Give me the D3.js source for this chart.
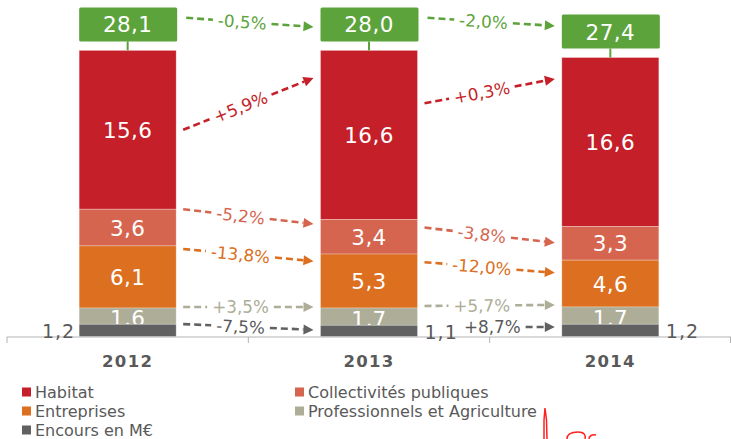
<!DOCTYPE html>
<html><head><meta charset="utf-8">
<script src="https://cdn.jsdelivr.net/npm/d3@7"></script>
<style>
html,body{margin:0;padding:0;background:#fff;}
svg{display:block;}
text{font-family:"DejaVu Sans",Verdana,sans-serif;}
</style></head>
<body>
<svg id="chart" width="731" height="439"></svg>
<script>
// ---------- DATA ----------
const years = ["2012", "2013", "2014"];
const habitat = [15.6, 16.6, 16.6];
const collectivites = [3.6, 3.4, 3.3];
const entreprises = [6.1, 5.3, 4.6];
const professionnels = [1.6, 1.7, 1.7];
const encours = [1.2, 1.1, 1.2];
const totals = ["28,1", "28,0", "27,4"];

const seriesKeys = ["encours", "professionnels", "entreprises", "collectivites", "habitat"];
const seriesLabels = {
  habitat: "Habitat",
  collectivites: "Collectivités publiques",
  entreprises: "Entreprises",
  professionnels: "Professionnels et Agriculture",
  encours: "Encours en M€"
};
const legendOrder = ["habitat", "collectivites", "entreprises", "professionnels", "encours"];

// evolution annotations (arrow end levels expressed in data units)
const arrowKeys = ["total", "habitat", "collectivites", "entreprises", "professionnels", "encours"];
const changes1213 = ["-0,5%", "+5,9%", "-5,2%", "-13,8%", "+3,5%", "-7,5%"];
const changes1314 = ["-2,0%", "+0,3%", "-3,8%", "-12,0%", "+5,7%", "+8,7%"];
const from1213 = [31.3, 20.3, 12.5, 8.6, 2.9, 1.22];
const to1213   = [30.4, 25.4, 11.05, 7.4, 2.9, 0.65];
const from1314 = [31.3, 22.9, 10.7, 7.3, 3.0, 0.93];
const to1314   = [30.5, 25.3, 9.2, 6.25, 3.1, 0.93];

// ---------- STYLE ----------
const colors = {
  habitat: "#C51F29",
  collectivites: "#D5654F",
  entreprises: "#DC6F20",
  professionnels: "#ADAD98",
  encours: "#616161",
  total: "#5CA33C"
};
const arrowTextColors = {
  total: "#5CA33C", habitat: "#C51F29", collectivites: "#D5654F",
  entreprises: "#DC6F20", professionnels: "#ADAD98", encours: "#595959"
};
const grey = "#595959";

const svg = d3.select("#chart");
const W = 731;

const x = d3.scaleBand().domain(years).range([7, 731]).paddingInner(0).paddingOuter(0);
const y = d3.scaleLinear().domain([0, 33]).range([336.5, 0.5]);
const barW = 97;
const bx = yr => x(yr) + x.bandwidth() / 2 - barW / 2;

// stack
const rows = years.map((yr, i) => ({
  year: yr, habitat: habitat[i], collectivites: collectivites[i],
  entreprises: entreprises[i], professionnels: professionnels[i], encours: encours[i]
}));
const stack = d3.stack().keys(seriesKeys)(rows);

// axis
const axisY = 337;
svg.append("line").attr("x1", 7).attr("x2", W).attr("y1", axisY).attr("y2", axisY)
  .attr("stroke", "#b3b3b3").attr("stroke-width", 1);
const tickXs = years.map(yr => x(yr)).concat([x(years[years.length - 1]) + x.bandwidth() - 0.5]);
svg.selectAll(".tk").data(tickXs).enter().append("line")
  .attr("x1", d => d).attr("x2", d => d).attr("y1", axisY).attr("y2", axisY + 6)
  .attr("stroke", "#b3b3b3");

// draw series in order habitat -> ... -> encours (so lower segments overlap labels above)
const drawOrder = ["habitat", "collectivites", "entreprises", "professionnels", "encours"];
drawOrder.forEach(key => {
  const layer = stack.find(s => s.key === key);
  const g = svg.append("g");
  g.selectAll("rect").data(layer).enter().append("rect")
    .attr("x", d => bx(d.data.year))
    .attr("y", d => y(d[1]))
    .attr("width", barW)
    .attr("height", d => y(d[0]) - y(d[1]))
    .attr("fill", colors[key])
    .attr("stroke", "#ffffff").attr("stroke-opacity", 0.35).attr("stroke-width", 0.8);
  if (key !== "encours") {
    g.selectAll("text").data(layer).enter().append("text")
      .attr("x", d => bx(d.data.year) + barW / 2)
      .attr("y", d => (y(d[0]) + y(d[1])) / 2 + (key === "professionnels" ? 10 : 8))
      .attr("text-anchor", "middle")
      .attr("fill", "#ffffff")
      .attr("font-size", "21.5px")
      .attr("letter-spacing", "0.4px")
      .text(d => d3.format(".1f")(d.data[key]).replace(".", ","));
  }
});

// encours labels outside the bars
const encLayer = stack.find(s => s.key === "encours");
svg.selectAll(".enc").data(encLayer).enter().append("text")
  .attr("x", (d, i) => i === 0 ? bx(d.data.year) - 4 : bx(d.data.year) + barW + 7)
  .attr("y", d => (y(d[0]) + y(d[1])) / 2 + 8)
  .attr("text-anchor", (d, i) => i === 0 ? "end" : "start")
  .attr("fill", grey)
  .attr("font-size", "19px")
  .attr("letter-spacing", "1px")
  .text(d => d3.format(".1f")(d.data.encours).replace(".", ","));

// total boxes
const boxH = 34;
const topLayer = stack[stack.length - 1];
years.forEach((yr, i) => {
  const barTop = y(topLayer[i][1]);
  const boxBottom = barTop - 9;
  const cx = bx(yr) + barW / 2;
  svg.append("line").attr("x1", cx).attr("x2", cx).attr("y1", boxBottom).attr("y2", barTop)
    .attr("stroke", colors.total).attr("stroke-width", 2);
  svg.append("rect").attr("x", bx(yr)).attr("y", boxBottom - boxH).attr("width", barW + 1)
    .attr("height", boxH).attr("rx", 1.5).attr("fill", colors.total);
  svg.append("text").attr("x", cx).attr("y", boxBottom - boxH / 2 + 8)
    .attr("text-anchor", "middle").attr("fill", "#fff")
    .attr("font-size", "21.5px").attr("letter-spacing", "0.4px")
    .text(totals[i]);
});

// arrows
function drawArrow(x1, y1, x2, y2, label, key, opts) {
  const color = colors[key];
  const dx = x2 - x1, dy = y2 - y1;
  const len = Math.hypot(dx, dy);
  const ux = dx / len, uy = dy / len;
  const ang = Math.atan2(dy, dx) * 180 / Math.PI;
  const tPos = opts.tPos;
  const tcx = x1 + dx * tPos, tcy = y1 + dy * tPos;
  const txt = svg.append("text")
    .attr("transform", `translate(${tcx},${tcy}) rotate(${ang})`)
    .attr("text-anchor", "middle").attr("dy", "0.36em")
    .attr("font-size", "16.8px")
    .attr("fill", arrowTextColors[key])
    .text(label);
  const tw = txt.node().getComputedTextLength();
  const gap = 5;
  const sLead = len * tPos - tw / 2 - gap;
  const sTrail = len * tPos + tw / 2 + gap;
  const head = 10, hw = 5;
  const g = svg.append("g").attr("stroke", color).attr("stroke-width", 2.6)
    .attr("stroke-dasharray", "7,4").attr("fill", "none");
  if (opts.lead && sLead > 0) {
    g.append("line").attr("x1", x1).attr("y1", y1)
      .attr("x2", x1 + ux * sLead).attr("y2", y1 + uy * sLead);
  }
  const ex = x2 - ux * head, ey = y2 - uy * head;
  g.append("line").attr("x1", x1 + ux * sTrail).attr("y1", y1 + uy * sTrail)
    .attr("x2", ex).attr("y2", ey);
  svg.append("path")
    .attr("d", `M${x2},${y2}L${ex - uy * hw},${ey + ux * hw}L${ex + uy * hw},${ey - ux * hw}Z`)
    .attr("fill", color);
}

[[0, changes1213, from1213, to1213], [1, changes1314, from1314, to1314]].forEach(([i, labs, fr, to]) => {
  const xa = bx(years[i]) + barW;
  const xb = bx(years[i + 1]);
  arrowKeys.forEach((key, k) => {
    const isEncLast = (i === 1 && key === "encours");
    const startX = key === "total" ? xa + 10 : xa + 7;
    drawArrow(startX, y(fr[k]), xb - 7, y(to[k]), labs[k], key,
      { tPos: isEncLast ? 0.52 : 0.44, lead: !isEncLast });
  });
});

// year labels
svg.selectAll(".yr").data(years).enter().append("text")
  .attr("x", d => x(d) + x.bandwidth() / 2)
  .attr("y", 367)
  .attr("text-anchor", "middle")
  .attr("font-weight", "bold")
  .attr("font-size", "16.5px")
  .attr("letter-spacing", "1.3px")
  .attr("fill", grey)
  .text(d => d);

// legend
const legendPos = [[22, 392], [295, 392], [22, 411], [295, 411], [22, 430]];
legendOrder.forEach((key, i) => {
  const [lx, ly] = legendPos[i];
  svg.append("rect").attr("x", lx).attr("y", ly - 4.5).attr("width", 9).attr("height", 9)
    .attr("fill", colors[key]);
  svg.append("text").attr("x", lx + 13).attr("y", ly + 5.5)
    .attr("font-size", "16px").attr("fill", grey)
    .text(seriesLabels[key]);
});

// hand-drawn red mark in the bottom right corner of the source image
svg.append("path")
  .attr("d", "M544,439 L544,420 L545,408 L546.5,420 L547,439 M567,439 C567,434 572,432 578,432 C584,432 586,435 585,439 M589,439 C589,436 592,434 596,435")
  .attr("fill", "none").attr("stroke", "#ff2020").attr("stroke-width", 1.5);
</script>
</body></html>
